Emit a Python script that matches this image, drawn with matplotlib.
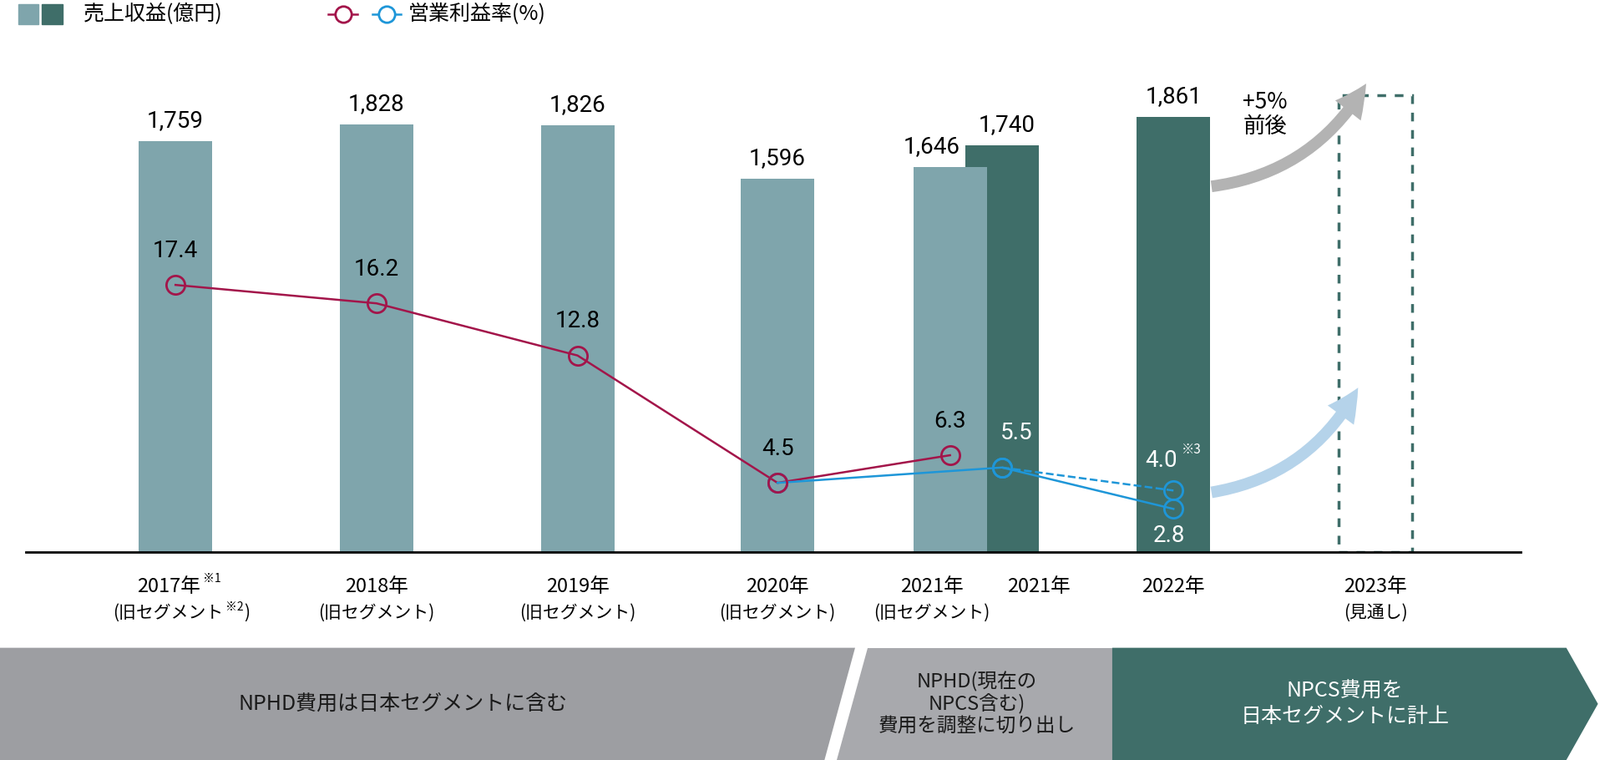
import matplotlib
matplotlib.use("Agg")
import matplotlib.pyplot as plt
import matplotlib.patches as mpatches
import numpy as np

plt.rcParams["font.family"] = "Noto Sans CJK JP"

# data
revenue = [1759, 1828, 1826, 1596, 1646, 1740, 1861]
revenue_dark = [False, False, False, False, False, True, True]
margin_old = [17.4, 16.2, 12.8, 4.5, 6.3]
margin_new = [4.5, 5.5, 2.8]
margin_new_alt = [5.5, 4.0]
margin_old_labels = ["17.4", "16.2", "12.8", "4.5", "6.3"]
xlabels = ["2017年", "2018年", "2019年", "2020年", "2021年", "2021年", "2022年", "2023年"]
xsub = ["(旧セグメント", "(旧セグメント)", "(旧セグメント)", "(旧セグメント)", "(旧セグメント)", "", "", "(見通し)"]

# layout (reference pixel space 1568 x 745)
W, H = 1568, 745
bar_x = [172, 369, 566, 762, 931, 982, 1150]
old_x = [172, 369, 566, 762, 931]
new_x = [762, 982, 1150]
alt_x = [982, 1150]
label_x = [165, 369, 566, 762, 913, 1018, 1150, 1348]
LIGHT, DARK, RED, BLUE = "#7fa5ac", "#3f6e69", "#a3154a", "#1e96d8"

fig = plt.figure(figsize=(19.16, 9.10), dpi=100)
base_y, top_y, left, right = 541, 40, 25, 1490
ax = fig.add_axes([left / W, 1 - base_y / H, (right - left) / W, (base_y - top_y) / H])
ax.set_xlim(left, right)
ax.set_ylim(0, (base_y - top_y) / 0.229)
for s in ["top", "right", "left"]:
    ax.spines[s].set_visible(False)
ax.spines["bottom"].set_linewidth(2)
ax.set_xticks([]); ax.set_yticks([])
ax.patch.set_alpha(0)

order = [0, 1, 2, 3, 5, 4, 6]  # dark 2021 behind light 2021
for i in order:
    ax.bar(bar_x[i], revenue[i], width=72, color=DARK if revenue_dark[i] else LIGHT, zorder=2)
    dx = 0 if i != 4 else -18
    dx = dx if i != 5 else 5
    ax.text(bar_x[i] + dx, revenue[i] + 40, f"{revenue[i]:,}", ha="center", va="bottom", fontsize=20,
            family="Roboto")
# 2023 outlook
ax.bar(1348, 1955, width=72, fill=False, edgecolor=DARK, linestyle=(0, (3, 3)), linewidth=2.5, zorder=2)

ax2 = ax.twinx()
ax2.set_ylim(0, (base_y - top_y) / 15.04)
ax2.axis("off")
mk = dict(marker="o", markersize=16, markerfacecolor="none", markeredgewidth=2, zorder=5)
ax2.plot(old_x, margin_old, color=RED, lw=1.8, **mk)
ax2.plot(new_x, margin_new, color=BLUE, lw=1.8, **mk)
ax2.plot(alt_x, margin_new_alt, color=BLUE, lw=1.8, linestyle="--", **mk)
ax2.plot(new_x[0], margin_new[0], color=RED, lw=0, **mk)
for x, v, t in zip(old_x, margin_old, margin_old_labels):
    ax2.text(x, v + 1.5, t, ha="center", va="bottom", fontsize=20, family="Roboto")
ax2.text(996, 7.0, "5.5", ha="center", va="bottom", fontsize=20, family="Roboto", color="white")
ax2.text(1138, 5.2, "4.0", ha="center", va="bottom", fontsize=20, family="Roboto", color="white")
ax2.text(1158, 6.2, "※3", ha="left", va="bottom", fontsize=11, color="white")
ax2.text(1146, 0.3, "2.8", ha="center", va="bottom", fontsize=20, family="Roboto", color="white")

# overlay in reference pixel space
ov = fig.add_axes([0, 0, 1, 1])
ov.set_xlim(0, W); ov.set_ylim(H, 0); ov.axis("off"); ov.patch.set_alpha(0)

for i, (x, t) in enumerate(zip(label_x, xlabels)):
    ov.text(x, 575, t, ha="center", va="center", fontsize=17)
    if xsub[i]:
        ov.text(x, 601, xsub[i], ha="center", va="center", fontsize=15)
ov.text(199, 567, "※1", fontsize=10, va="center")
ov.text(221, 595, "※2", fontsize=10, va="center")
ov.text(239, 601, ")", fontsize=15, va="center")

# arrows
ov.add_patch(mpatches.FancyArrowPatch((1185, 183), (1340, 80), connectionstyle="arc3,rad=0.25",
             arrowstyle="simple,head_width=28,head_length=28,tail_width=10", color="#b3b3b3", lw=0))
ov.add_patch(mpatches.FancyArrowPatch((1185, 483), (1332, 378), connectionstyle="arc3,rad=0.25",
             arrowstyle="simple,head_width=28,head_length=28,tail_width=10", color="#b5d3ea", lw=0))
ov.text(1240, 112, "+5%\n前後", ha="center", va="center", fontsize=19, linespacing=1.1)

# legend
ov.add_patch(mpatches.Rectangle((18, 4), 20, 20, color=LIGHT))
ov.add_patch(mpatches.Rectangle((41, 4), 20, 20, color=DARK))
ov.text(82, 14, "売上収益(億円)", va="center", fontsize=18)
ov.plot([322, 350], [14, 14], color=RED, lw=1.8, zorder=1)
ov.plot([336], [14], color=RED, marker="o", markersize=14, markerfacecolor="white", markeredgewidth=2)
ov.plot([365, 393], [14, 14], color=BLUE, lw=1.8, zorder=1)
ov.plot([379], [14], color=BLUE, marker="o", markersize=14, markerfacecolor="white", markeredgewidth=2)
ov.text(400, 14, "営業利益率(%)", va="center", fontsize=18)

# bottom bands
ov.add_patch(mpatches.Polygon([(0, 635), (838, 635), (808, 745), (0, 745)], color="#9d9ea2", lw=0))
ov.add_patch(mpatches.Polygon([(850, 635), (1090, 635), (1090, 745), (820, 745)], color="#a8a9ad", lw=0))
ov.add_patch(mpatches.Polygon([(1090, 635), (1535, 635), (1566, 690), (1535, 745), (1090, 745)],
             color=DARK, lw=0))
ov.text(395, 690, "NPHD費用は日本セグメントに含む", ha="center", va="center", fontsize=18, color="#1a1a1a")
ov.text(957, 690, "NPHD(現在の\nNPCS含む)\n費用を調整に切り出し", ha="center", va="center",
        fontsize=17, color="#1a1a1a", linespacing=1.15)
ov.text(1318, 690, "NPCS費用を\n日本セグメントに計上", ha="center", va="center",
        fontsize=18, color="white", linespacing=1.2)

fig.savefig("out.png", dpi=100)
